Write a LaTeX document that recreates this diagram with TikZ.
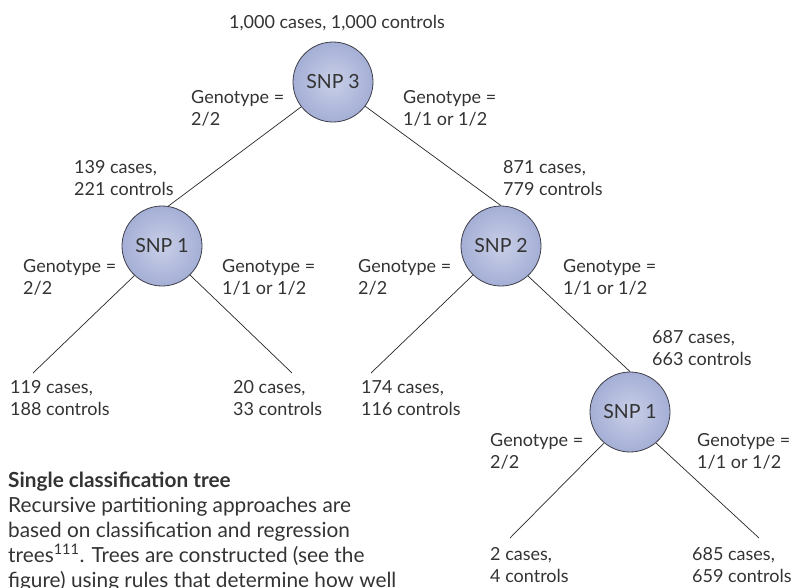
\documentclass[tikz,border=0pt]{standalone}
\usepackage{fontspec}
\setmainfont{Lato}
\definecolor{txt}{HTML}{333333}
\definecolor{snpin}{HTML}{C9CFE8}
\definecolor{snpout}{HTML}{8290C4}
\definecolor{snpline}{HTML}{3F3F4A}
\pgfdeclareradialshading{snpball}{\pgfpoint{0bp}{0bp}}{color(0bp)=(snpin); color(49bp)=(snpout); color(50bp)=(snpout)}
\newcommand{\mytwo}[2]{\vtop{\hbox{#1}\hbox{#2}}}
\tikzset{
  lbl/.style={anchor=base west, inner sep=0pt, text=txt, font=\fontsize{18}{22}\selectfont},
  snp/.style={circle, minimum size=80pt, inner sep=0pt, draw=snpline, line width=0.8pt, shading=snpball, text=txt, font=\fontsize{19.5}{22}\selectfont},
  edge/.style={draw=black!85, line width=0.7pt},
}
\begin{document}
\begin{tikzpicture}[x=1pt,y=-1pt]
\useasboundingbox (0,0) rectangle (795,587);
\clip (0,0) rectangle (795,587);
% nodes
\node[lbl, anchor=base] (top) at (337,28) {1,000 cases, 1,000 controls};
\node[snp] (s3) at (333,82) {SNP 3};
\node[snp] (s1a) at (162,246) {SNP 1};
\node[snp] (s2) at (501,246) {SNP 2};
\node[snp] (s1b) at (630,412) {SNP 1};
% leaf ends
\coordinate (l1) at (33,373);
\coordinate (l2) at (292,373);
\coordinate (l3) at (371,373);
\coordinate (l4) at (510,538);
\coordinate (l5) at (759,538);
% edges
\draw[edge] (s3.218) -- (s1a.81);
\draw[edge] (s3.-37) -- (s2.north);
\draw[edge] (s1a.227) -- (l1);
\draw[edge] (s1a.-46) -- (l2);
\draw[edge] (s2.226) -- (l3);
\draw[edge] (s2.-48) -- (s1b.north);
\draw[edge] (s1b.230) -- (l4);
\draw[edge] (s1b.-50) -- (l5);
% labels
\node[lbl] (g3l) at (191,103) {\mytwo{Genotype =}{2/2}};
\node[lbl] (g3r) at (403,103) {\mytwo{Genotype =}{1/1 or 1/2}};
\node[lbl] (c1a) at (74,173) {\mytwo{139 cases,}{221 controls}};
\node[lbl] (c2) at (503,173) {\mytwo{871 cases,}{779 controls}};
\node[lbl] (g1al) at (23,272) {\mytwo{Genotype =}{2/2}};
\node[lbl] (g1ar) at (222,272) {\mytwo{Genotype =}{1/1 or 1/2}};
\node[lbl] (g2l) at (358,272) {\mytwo{Genotype =}{2/2}};
\node[lbl] (g2r) at (563,272) {\mytwo{Genotype =}{1/1 or 1/2}};
\node[lbl] (c1b) at (652,343) {\mytwo{687 cases,}{663 controls}};
\node[lbl] (f1) at (10,393) {\mytwo{119 cases,}{188 controls}};
\node[lbl] (f2) at (233,393) {\mytwo{20 cases,}{33 controls}};
\node[lbl] (f3) at (361,393) {\mytwo{174 cases,}{116 controls}};
\node[lbl] (g1bl) at (490,446) {\mytwo{Genotype =}{2/2}};
\node[lbl] (g1br) at (697,446) {\mytwo{Genotype =}{1/1 or 1/2}};
\node[lbl] (f4) at (490,560) {\mytwo{2 cases,}{4 controls}};
\node[lbl] (f5) at (692,560) {\mytwo{685 cases,}{659 controls}};
% caption text
\node[lbl, font=\fontsize{20.8}{25}\selectfont] (cap) at (8,487) {\vtop{\hbox{\bfseries Single classification tree}\hbox{Recursive partitioning approaches are}\hbox{based on classification and regression}\hbox{trees\textsuperscript{111}. Trees are constructed (see the}\hbox{figure) using rules that determine how well}}};
\end{tikzpicture}
\end{document}
